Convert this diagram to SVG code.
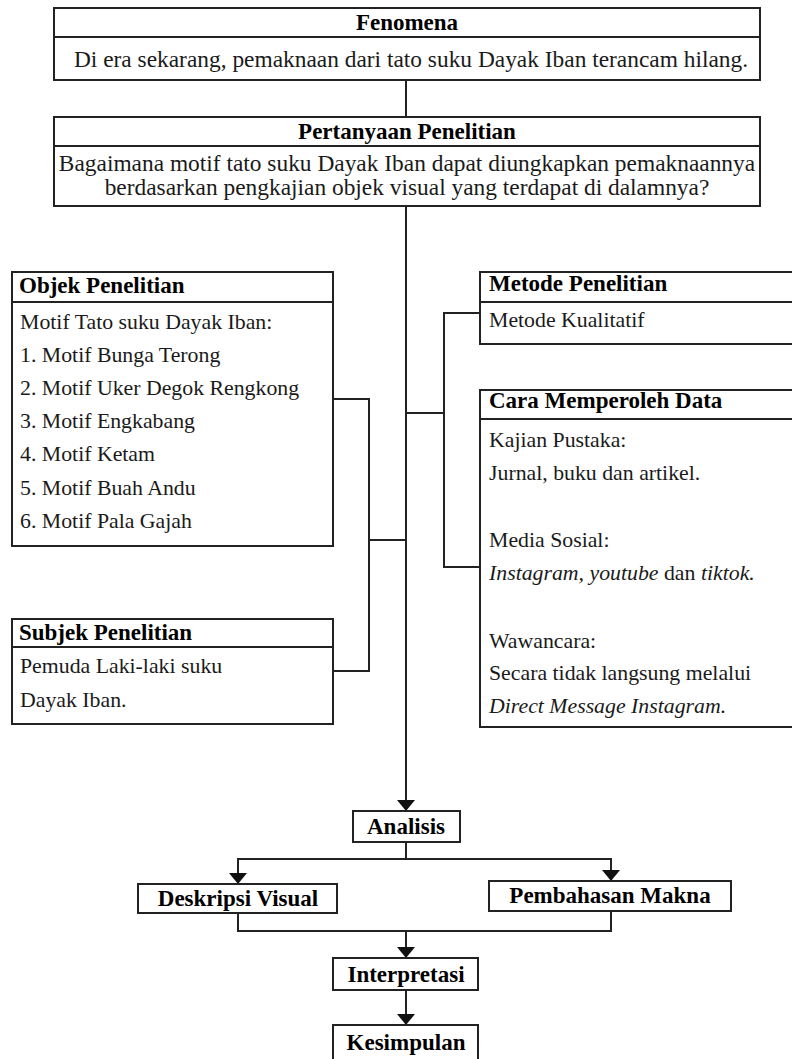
<svg xmlns="http://www.w3.org/2000/svg" width="792" height="1059" viewBox="0 0 792 1059">
<style>
  .box{fill:#fff;stroke:#222;stroke-width:2}
  .div{stroke:#222;stroke-width:2}
  .con{fill:none;stroke:#222;stroke-width:2}
  text{font-family:"Liberation Serif","Times New Roman",serif;fill:#1a1a1a}
  .h{font-weight:bold;font-size:23px;fill:#000}
  .b{font-size:23.4px}
  .s{font-size:21.8px}
  .bb{font-weight:bold;font-size:23px;fill:#000}
  .i{font-style:italic}
  .c{text-anchor:middle}
</style>
<defs>
  <marker id="arr" viewBox="0 0 11 18" markerWidth="11" markerHeight="18" refX="11" refY="9" orient="auto" markerUnits="userSpaceOnUse">
    <path d="M0,0 L11,9 L0,18 Z" fill="#111"/>
  </marker>
</defs>
<rect width="792" height="1059" fill="#fff"/>
<g id="connectors">
  <line class="con" x1="406" y1="80" x2="406" y2="117"/>
  <line class="con" x1="406" y1="206" x2="406" y2="811" marker-end="url(#arr)"/>
  <polyline class="con" points="333,399 369,399 369,671 333,671"/>
  <line class="con" x1="369" y1="540" x2="406" y2="540"/>
  <polyline class="con" points="480,313 444,313 444,567 480,567"/>
  <line class="con" x1="406" y1="413" x2="444" y2="413"/>
  <line class="con" x1="406" y1="842" x2="406" y2="859"/>
  <line class="con" x1="237" y1="859" x2="612" y2="859"/>
  <line class="con" x1="238" y1="859" x2="238" y2="884" marker-end="url(#arr)"/>
  <line class="con" x1="611" y1="859" x2="611" y2="881" marker-end="url(#arr)"/>
  <polyline class="con" points="238,913 238,931 611,931 611,911"/>
  <line class="con" x1="406" y1="931" x2="406" y2="958" marker-end="url(#arr)"/>
  <line class="con" x1="406" y1="990" x2="406" y2="1025" marker-end="url(#arr)"/>
</g>
<g id="fenomena">
  <rect class="box" x="54" y="8" width="706" height="72"/>
  <line class="div" x1="54" y1="37" x2="760" y2="37"/>
  <text class="h c" x="407" y="30">Fenomena</text>
  <text class="b c" x="411" y="67">Di era sekarang, pemaknaan dari tato suku Dayak Iban terancam hilang.</text>
</g>
<g id="pertanyaan">
  <rect class="box" x="54" y="117" width="706" height="89"/>
  <line class="div" x1="54" y1="146" x2="760" y2="146"/>
  <text class="h c" x="407" y="139">Pertanyaan Penelitian</text>
  <text class="b c" x="407" y="171">Bagaimana motif tato suku Dayak Iban dapat diungkapkan pemaknaannya</text>
  <text class="b c" x="407" y="195">berdasarkan pengkajian objek visual yang terdapat di dalamnya?</text>
</g>
<g id="objek">
  <rect class="box" x="12" y="272" width="321" height="274"/>
  <line class="div" x1="12" y1="302" x2="333" y2="302"/>
  <text class="h" x="19" y="293">Objek Penelitian</text>
  <text class="s" x="20" y="329">Motif Tato suku Dayak Iban:</text>
  <text class="s" x="20" y="362">1. Motif Bunga Terong</text>
  <text class="s" x="20" y="395">2. Motif Uker Degok Rengkong</text>
  <text class="s" x="20" y="428">3. Motif Engkabang</text>
  <text class="s" x="20" y="461">4. Motif Ketam</text>
  <text class="s" x="20" y="495">5. Motif Buah Andu</text>
  <text class="s" x="20" y="528">6. Motif Pala Gajah</text>
</g>
<g id="subjek">
  <rect class="box" x="12" y="619" width="321" height="105"/>
  <line class="div" x1="12" y1="647" x2="333" y2="647"/>
  <text class="h" x="19" y="640">Subjek Penelitian</text>
  <text class="s" x="20" y="673">Pemuda Laki-laki suku</text>
  <text class="s" x="20" y="707">Dayak Iban.</text>
</g>
<g id="metode">
  <rect class="box" x="480" y="272" width="330" height="72"/>
  <line class="div" x1="480" y1="302" x2="810" y2="302"/>
  <text class="h" x="489" y="291">Metode Penelitian</text>
  <text class="s" x="489" y="327">Metode Kualitatif</text>
</g>
<g id="cara">
  <rect class="box" x="480" y="390" width="330" height="337"/>
  <line class="div" x1="480" y1="419" x2="810" y2="419"/>
  <text class="h" x="489" y="408">Cara Memperoleh Data</text>
  <text class="s" x="489" y="447">Kajian Pustaka:</text>
  <text class="s" x="489" y="480">Jurnal, buku dan artikel.</text>
  <text class="s" x="489" y="547">Media Sosial:</text>
  <text class="s" x="489" y="580"><tspan class="i">Instagram, youtube</tspan> dan <tspan class="i">tiktok.</tspan></text>
  <text class="s" x="489" y="648">Wawancara:</text>
  <text class="s" x="489" y="680">Secara tidak langsung melalui</text>
  <text class="s i" x="489" y="713">Direct Message Instagram.</text>
</g>
<g id="analisis">
  <rect class="box" x="353" y="811" width="107" height="31"/>
  <text class="bb c" x="406" y="834">Analisis</text>
</g>
<g id="deskripsi">
  <rect class="box" x="138" y="884" width="199" height="29"/>
  <text class="bb c" x="238" y="906">Deskripsi Visual</text>
</g>
<g id="pembahasan">
  <rect class="box" x="489" y="881" width="242" height="30"/>
  <text class="bb c" x="610" y="903">Pembahasan Makna</text>
</g>
<g id="interpretasi">
  <rect class="box" x="333" y="958" width="145" height="32"/>
  <text class="bb c" x="406" y="982">Interpretasi</text>
</g>
<g id="kesimpulan">
  <rect class="box" x="333" y="1025" width="145" height="40"/>
  <text class="bb c" x="406" y="1050">Kesimpulan</text>
</g>
</svg>
